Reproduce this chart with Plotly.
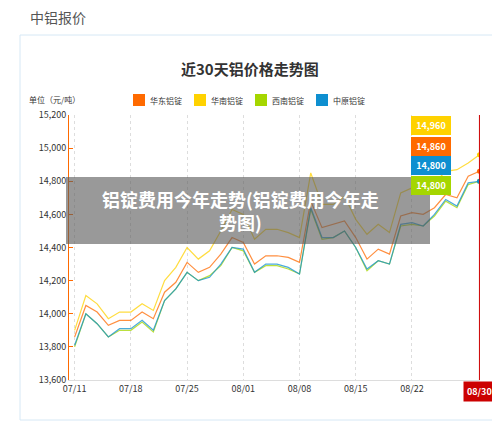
import plotly.graph_objects as go

dates = ["07/11","07/12","07/15","07/16","07/17","07/18","07/19","07/22","07/23","07/24","07/25","07/26","07/29","07/30","07/31",
         "08/01","08/02","08/05","08/06","08/07","08/08","08/09","08/12","08/13","08/14","08/15","08/16","08/19","08/20","08/21",
         "08/22","08/23","08/26","08/27","08/28","08/29","08/30"]
tick_labels = ["07/11","07/18","07/25","08/01","08/08","08/15","08/22"]
huadong = [13860,14050,14010,13930,13960,13960,14010,13970,14130,14190,14310,14250,14280,14360,14460,
           14430,14300,14350,14350,14340,14310,14680,14520,14540,14560,14460,14330,14390,14360,14590,
           14610,14600,14640,14720,14700,14830,14860]
huanan = [13900,14110,14060,13970,14010,14010,14060,14020,14200,14280,14400,14330,14380,14500,14630,
          14600,14450,14510,14510,14490,14460,14850,14660,14660,14710,14570,14480,14540,14490,14730,
          14760,14750,14790,14860,14870,14910,14960]
xinan = [13800,14000,13940,13860,13900,13900,13950,13890,14080,14150,14250,14200,14230,14290,14400,
         14380,14250,14290,14290,14270,14240,14630,14450,14460,14500,14400,14260,14320,14300,14530,
         14540,14530,14590,14680,14640,14780,14800]
zhongyuan = [13810,14000,13940,13860,13910,13910,13960,13900,14080,14150,14250,14200,14220,14300,14400,
             14390,14250,14300,14300,14280,14240,14640,14460,14460,14500,14400,14270,14320,14300,14540,
             14550,14530,14600,14690,14650,14790,14800]
series = [("华东铝锭", huadong, "#ff6a00"), ("华南铝锭", huanan, "#ffd200"),
          ("西南铝锭", xinan, "#a5d600"), ("中原铝锭", zhongyuan, "#0e8fd0")]

F = "Noto Sans CJK SC"
fig = go.Figure()
for name, vals, col in series:
    fig.add_trace(go.Scatter(x=dates, y=vals, name=name, mode="lines", showlegend=False,
                             line=dict(color=col, width=1.2), opacity=0.75))
    fig.add_trace(go.Scatter(x=[dates[-1]], y=[vals[-1]], mode="markers", showlegend=False,
                             marker=dict(color=col, size=5)))

def px(x): return (x - 69) / 411
def py(y): return 1 - (y - 115) / 265

fig.update_layout(
    width=492, height=413, margin=dict(l=61, r=20, t=107, b=41),
    paper_bgcolor="white", plot_bgcolor="white",
    font=dict(family=F, size=9, color="#333"),
    showlegend=False,
    xaxis=dict(type="category", categoryorder="array", categoryarray=dates, range=[-0.5, 36.05],
               tickvals=tick_labels, ticktext=tick_labels, showgrid=True, gridcolor="#ddd", griddash="dot",
               showline=True, linecolor="#ddd", ticks="", tickfont=dict(size=9, color="#333")),
    yaxis=dict(range=[13600, 15200], dtick=200, tickformat=",", showgrid=False, showline=True,
               linecolor="#ff6a00", ticks="inside", tickcolor="#ff6a00", ticklen=4,
               tickfont=dict(size=9, color="#333")),
)
fig.add_shape(type="line", xref="x", yref="paper", x0=dates[-1], x1=dates[-1], y0=0, y1=1,
              line=dict(color="#cc0000", width=1))
fig.add_shape(type="rect", xref="paper", yref="paper", x0=px(20), x1=px(520), y0=py(420), y1=py(35),
              line=dict(color="#d6e8f5", width=1))
leg_x = [133, 194, 255, 316]
for (name, vals, col), lx in zip(series, leg_x):
    fig.add_shape(type="rect", xref="paper", yref="paper", x0=px(lx), x1=px(lx + 12),
                  y0=py(106), y1=py(94), fillcolor=col, line=dict(width=0))
    fig.add_annotation(text=name, xref="paper", yref="paper", x=px(lx + 15), y=py(100),
                       xanchor="left", yanchor="middle",
                       showarrow=False, font=dict(size=8, color="#333"))
ann = [("中铝报价", 28, 17, 14, "#555", "left"),
       ("<b>近30天铝价格走势图</b>", 250, 68, 15, "#333", "center"),
       ("单位（元/吨）", 27, 99, 8, "#333", "left")]
for t, x, y, s, c, xa in ann:
    fig.add_annotation(text=t, xref="paper", yref="paper", x=px(x), y=py(y), xanchor=xa, yanchor="middle",
                       showarrow=False, font=dict(size=s, color=c))
labs = [(huanan[-1], "#ffd200", 125), (huadong[-1], "#ff6a00", 146), (zhongyuan[-1], "#0e8fd0", 165), (xinan[-1], "#a5d600", 185)]
for v, col, yy in labs:
    fig.add_annotation(text=f"<b>{v:,}</b>", xref="paper", yref="paper", x=px(451), y=py(yy), yanchor="middle",
                       showarrow=False, bgcolor=col, bordercolor=col, borderpad=2, width=34,
                       font=dict(size=9, color="white"))
fig.add_annotation(text="<b>" + dates[-1] + "</b>", xref="x", yref="paper", x=dates[-1], y=-0.005, yanchor="top",
                   showarrow=False, bgcolor="#cc0000", borderpad=3, font=dict(size=9, color="white"))
fig.add_shape(type="rect", xref="paper", yref="paper", x0=px(66), x1=px(430),
              y0=py(244), y1=py(177), fillcolor="rgba(90,90,90,0.62)", line=dict(width=0))
fig.add_annotation(text="<b>铝锭费用今年走势(铝锭费用今年走<br>势图)</b>", xref="paper", yref="paper",
                   x=px(240), y=py(210), yanchor="middle", showarrow=False, align="center",
                   font=dict(size=18, color="white"))
fig.write_html("out.html")
